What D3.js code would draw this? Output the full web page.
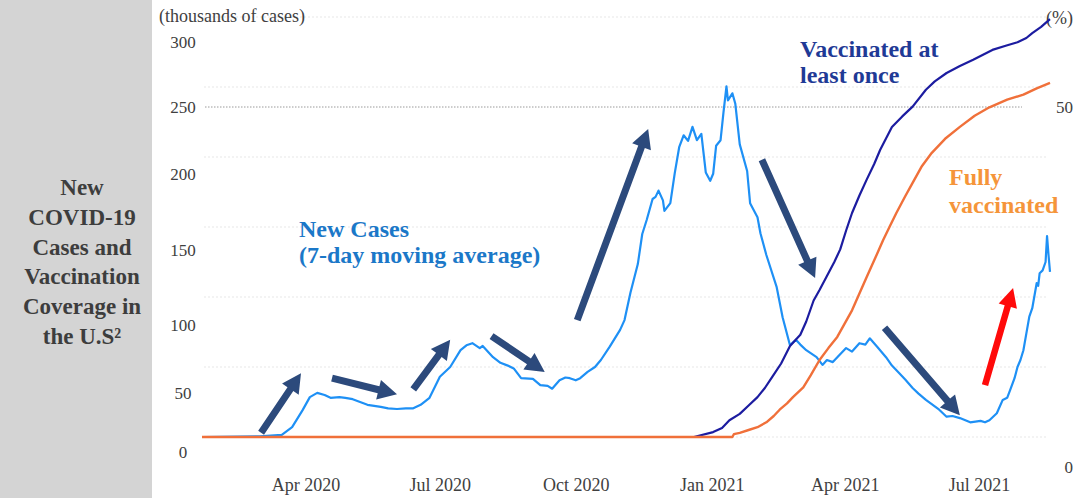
<!DOCTYPE html>
<html>
<head>
<meta charset="utf-8">
<script src="https://cdn.jsdelivr.net/npm/d3@7"></script>
<style>
  html, body { margin: 0; padding: 0; background: #fff; }
  svg { display: block; font-family: "Liberation Serif", "Times New Roman", serif; }
</style>
</head>
<body>
<svg id="chart" width="1074" height="498"></svg>
<script>
// New COVID-19 cases, 7-day moving average (thousands of cases)
const newCases = [
  ["2020-01-22",0],["2020-03-01",0.5],["2020-03-16",1.5],["2020-03-23",7],["2020-03-30",19],
  ["2020-04-04",28.5],["2020-04-09",31.5],["2020-04-14",30],["2020-04-18",28],["2020-04-24",28.5],
  ["2020-04-28",28],["2020-05-03",27],["2020-05-08",25],["2020-05-13",23],["2020-05-22",21.5],
  ["2020-05-27",20.5],["2020-06-02",20],["2020-06-08",20.5],["2020-06-13",20.5],["2020-06-18",23],
  ["2020-06-24",28],["2020-07-01",43],["2020-07-08",50],["2020-07-15",62],["2020-07-19",65.5],
  ["2020-07-23",67],["2020-07-28",63.5],["2020-07-30",65],["2020-08-06",57],["2020-08-11",53],
  ["2020-08-16",51],["2020-08-20",49],["2020-08-25",42],["2020-09-02",41.5],["2020-09-07",37],
  ["2020-09-12",36.5],["2020-09-15",34.5],["2020-09-20",40.5],["2020-09-24",42.5],["2020-09-27",42],
  ["2020-10-01",40.5],["2020-10-04",42],["2020-10-09",46.5],["2020-10-14",50],["2020-10-18",55],
  ["2020-10-24",64.5],["2020-10-31",76.5],["2020-11-03",83.5],["2020-11-07",103],["2020-11-12",123.5],
  ["2020-11-15",145],["2020-11-18",155],["2020-11-22",170],["2020-11-24",171.5],["2020-11-26",176],
  ["2020-11-29",169],["2020-11-30",161.5],["2020-12-04",167],["2020-12-07",188.5],["2020-12-10",207],
  ["2020-12-13",215.5],["2020-12-16",211.5],["2020-12-19",221.5],["2020-12-22",212],["2020-12-25",216.5],
  ["2020-12-28",189],["2020-12-31",183],["2021-01-02",188],["2021-01-04",208],["2021-01-07",212],
  ["2021-01-09",232],["2021-01-11",250.5],["2021-01-12",240.5],["2021-01-15",245.5],["2021-01-17",238],
  ["2021-01-20",209],["2021-01-25",190],["2021-01-27",167],["2021-02-01",157],["2021-02-03",145.5],
  ["2021-02-07",130],["2021-02-14",107],["2021-02-18",85.5],["2021-02-23",65.5],["2021-02-27",69.5],
  ["2021-03-02",66],["2021-03-06",62],["2021-03-13",57],["2021-03-17",51.5],["2021-03-20",55],
  ["2021-03-24",53.5],["2021-03-28",58],["2021-04-02",63.5],["2021-04-06",61],["2021-04-11",67],
  ["2021-04-15",66],["2021-04-18",70.5],["2021-04-23",64.5],["2021-04-29",57],["2021-05-03",51],
  ["2021-05-08",45.5],["2021-05-12",41],["2021-05-17",35],["2021-05-21",31],["2021-05-26",26.5],
  ["2021-06-04",19.5],["2021-06-09",14.5],["2021-06-13",15],["2021-06-18",13.5],["2021-06-25",10.5],
  ["2021-07-02",11.5],["2021-07-05",10.5],["2021-07-08",12],["2021-07-13",17],["2021-07-17",26.5],
  ["2021-07-20",28],["2021-07-22",33.5],["2021-07-25",42],["2021-07-27",50],["2021-07-29",55],
  ["2021-07-31",62],["2021-08-02",74],["2021-08-04",86],["2021-08-06",92],["2021-08-07",98],
  ["2021-08-09",110],["2021-08-10",108],["2021-08-11",117],["2021-08-13",119],["2021-08-15",125],
  ["2021-08-16",143.5],["2021-08-17",130],["2021-08-18",118]
];

// Share of population vaccinated at least once (%)
const atLeastOnce = [
  ["2020-01-22",0],["2020-12-20",0],["2021-01-02",0.7],["2021-01-08",1.3],["2021-01-13",2.4],
  ["2021-01-20",3.3],["2021-01-26",4.5],["2021-02-01",5.7],["2021-02-06",7],["2021-02-11",8.6],
  ["2021-02-17",10.5],["2021-02-23",13],["2021-03-02",14.6],["2021-03-06",16.5],["2021-03-11",19.5],
  ["2021-03-15",21],["2021-03-20",23],["2021-03-25",25],["2021-03-29",26.8],["2021-04-02",29.5],
  ["2021-04-06",32],["2021-04-11",34.5],["2021-04-16",36.8],["2021-04-21",39],["2021-04-25",41],
  ["2021-05-03",44.3],["2021-05-10",45.8],["2021-05-17",47.2],["2021-05-26",49.6],["2021-06-01",50.8],
  ["2021-06-09",52],["2021-06-18",53],["2021-06-27",53.9],["2021-07-10",55.3],["2021-07-19",55.9],
  ["2021-07-27",56.4],["2021-08-02",57],["2021-08-06",57.7],["2021-08-12",58.6],["2021-08-18",59.7]
];

// Share of population fully vaccinated (%)
const fullyVaccinated = [
  ["2020-01-22",0],["2021-01-15",0],["2021-01-16",0.4],["2021-01-20",0.6],["2021-01-26",1],
  ["2021-02-01",1.4],["2021-02-07",2.1],["2021-02-12",3],["2021-02-16",3.9],["2021-02-21",4.8],
  ["2021-02-25",5.7],["2021-03-04",7.1],["2021-03-09",8.8],["2021-03-15",11],["2021-03-21",12.7],
  ["2021-03-27",14.3],["2021-04-01",16.2],["2021-04-06",18.1],["2021-04-11",20.5],["2021-04-16",22.9],
  ["2021-04-22",25.7],["2021-04-27",28.1],["2021-05-02",30.3],["2021-05-06",32],["2021-05-12",34.4],
  ["2021-05-17",36.3],["2021-05-23",38.6],["2021-05-30",40.6],["2021-06-08",42.6],["2021-06-18",44.3],
  ["2021-06-28",45.9],["2021-07-08",47.1],["2021-07-20",48.2],["2021-07-31",48.9],["2021-08-09",49.8],
  ["2021-08-18",50.6]
];

// Trend arrows: [from date, from cases, to date, to cases]
const trendArrows = [
  ["2020-03-02",3,"2020-03-29",45.5],
  ["2020-04-19",42,"2020-06-02",30.5],
  ["2020-06-13",34,"2020-07-08",69.5],
  ["2020-08-05",72,"2020-09-10",46.5],
  ["2020-10-02",83.5,"2020-11-19",220],
  ["2021-02-04",198,"2021-03-12",113.5],
  ["2021-04-28",78,"2021-06-18",15.5]
];
const surgeArrow = ["2021-07-05",37,"2021-07-24",106.5];

// Axis labels
const leftTicks = [0, 50, 100, 150, 200, 250, 300];
const rightTicks = [0, 50];
const monthTicks = ["2020-04-01","2020-07-01","2020-10-01","2021-01-01","2021-04-01","2021-07-01"];
const titleLines = ["New", "COVID-19", "Cases and", "Vaccination", "Coverage in", "the U.S\u00B2"];

const parse = d3.timeParse("%Y-%m-%d");
const svg = d3.select("#chart");

// Scales
const x = d3.scaleTime()
  .domain([parse("2020-01-22"), parse("2021-08-18")])
  .range([202, 1050]);
const yCases = d3.scaleLinear().domain([0, 300]).range([437, 17]);
const yPct = d3.scaleLinear().domain([0, 60]).range([437, 17]);
// label placement for the printed value axes
const yLeftLabel = d3.scaleLinear().domain(leftTicks).range([452, 393, 325, 250, 174, 107, 42]);
const yRightLabel = d3.scaleLinear().domain(rightTicks).range([467, 107]);

// Side panel with the chart title
svg.append("rect").attr("x", 0).attr("y", 0).attr("width", 152).attr("height", 498).attr("fill", "#d4d4d4");
svg.append("g").selectAll("text").data(titleLines).join("text")
  .attr("x", 82)
  .attr("y", (d, i) => 195 + i * 29.8)
  .attr("text-anchor", "middle")
  .attr("font-size", 23)
  .attr("font-weight", "bold")
  .attr("fill", "#3d3d3d")
  .text(d => d);

// Faint horizontal gridlines
svg.append("g").selectAll("line").data(leftTicks).join("line")
  .attr("x1", 204).attr("x2", 1048)
  .attr("y1", d => yCases(d)).attr("y2", d => yCases(d))
  .attr("stroke", "#efefef").attr("stroke-width", 1.5).attr("stroke-dasharray", "2,2");

// Dotted reference line at the 250 label
svg.append("line")
  .attr("x1", 205).attr("x2", 1022)
  .attr("y1", yLeftLabel(250)).attr("y2", yLeftLabel(250))
  .attr("stroke", "#9a9a9a").attr("stroke-width", 1).attr("stroke-dasharray", "1.5,1.5");

// Left axis labels
const leftAxis = svg.append("g").attr("transform", "translate(183,0)")
  .call(d3.axisLeft(yLeftLabel).tickValues(leftTicks).tickSize(0).tickPadding(0));
leftAxis.select(".domain").remove();
leftAxis.selectAll("text")
  .attr("text-anchor", "middle").attr("x", 0)
  .attr("font-family", "Liberation Serif, serif").attr("font-size", 17).attr("fill", "#404040");

svg.append("text").attr("x", 159).attr("y", 22)
  .attr("font-size", 18).attr("fill", "#404040").text("(thousands of cases)");

// Right axis labels
const rightAxis = svg.append("g").attr("transform", "translate(1073,0)")
  .call(d3.axisRight(yRightLabel).tickValues(rightTicks).tickSize(0).tickPadding(0));
rightAxis.select(".domain").remove();
rightAxis.selectAll("text")
  .attr("text-anchor", "end").attr("x", 0)
  .attr("font-family", "Liberation Serif, serif").attr("font-size", 17).attr("fill", "#404040");
svg.append("text").attr("x", 1073).attr("y", 24).attr("text-anchor", "end")
  .attr("font-size", 18).attr("fill", "#404040").text("(%)");

// Bottom axis
const xAxis = svg.append("g").attr("transform", "translate(0,478)")
  .call(d3.axisBottom(x).tickValues(monthTicks.map(parse))
    .tickFormat(d3.timeFormat("%b %Y")).tickSize(0).tickPadding(0));
xAxis.select(".domain").remove();
xAxis.selectAll("text")
  .attr("font-family", "Liberation Serif, serif").attr("font-size", 18).attr("fill", "#404040");

// Series lines
const caseLine = d3.line().x(d => x(parse(d[0]))).y(d => yCases(d[1]));
const pctLine = d3.line().x(d => x(parse(d[0]))).y(d => yPct(d[1]));

svg.append("path").datum(newCases).attr("d", caseLine)
  .attr("fill", "none").attr("stroke", "#1e90f5").attr("stroke-width", 2.2)
  .attr("stroke-linejoin", "round");
svg.append("path").datum(atLeastOnce).attr("d", pctLine)
  .attr("fill", "none").attr("stroke", "#1c1ca0").attr("stroke-width", 2.2)
  .attr("stroke-linejoin", "round");
svg.append("path").datum(fullyVaccinated).attr("d", pctLine)
  .attr("fill", "none").attr("stroke", "#f0703a").attr("stroke-width", 2.4)
  .attr("stroke-linejoin", "round");

// Arrows
function arrowPath(a, shaft, headLen, headW) {
  const x1 = x(parse(a[0])), y1 = yCases(a[1]);
  const x2 = x(parse(a[2])), y2 = yCases(a[3]);
  const len = Math.hypot(x2 - x1, y2 - y1);
  const ux = (x2 - x1) / len, uy = (y2 - y1) / len;
  const nx = -uy, ny = ux;
  const bx = x2 - ux * headLen, by = y2 - uy * headLen;
  const p = [
    [x1 + nx * shaft / 2, y1 + ny * shaft / 2],
    [bx + nx * shaft / 2, by + ny * shaft / 2],
    [bx + nx * headW / 2, by + ny * headW / 2],
    [x2, y2],
    [bx - nx * headW / 2, by - ny * headW / 2],
    [bx - nx * shaft / 2, by - ny * shaft / 2],
    [x1 - nx * shaft / 2, y1 - ny * shaft / 2]
  ];
  return "M" + p.map(q => q.join(",")).join("L") + "Z";
}
svg.append("g").selectAll("path").data(trendArrows).join("path")
  .attr("d", d => arrowPath(d, 7, 19, 20))
  .attr("fill", "#2c4a7c");
svg.append("path").attr("d", arrowPath(surgeArrow, 6.5, 19, 19)).attr("fill", "#ff0a0a");

// Series annotations
const ann = svg.append("g").attr("font-weight", "bold").attr("font-size", 24);
ann.append("text").attr("x", 299).attr("y", 237).attr("fill", "#1b78c8").text("New Cases");
ann.append("text").attr("x", 299).attr("y", 263).attr("fill", "#1b78c8").text("(7-day moving average)");
ann.append("text").attr("x", 800).attr("y", 57).attr("fill", "#1f3a96").text("Vaccinated at");
ann.append("text").attr("x", 800).attr("y", 83).attr("fill", "#1f3a96").text("least once");
ann.append("text").attr("x", 949).attr("y", 185).attr("fill", "#f5953a").text("Fully");
ann.append("text").attr("x", 949).attr("y", 213).attr("fill", "#f5953a").text("vaccinated");
</script>
</body>
</html>
